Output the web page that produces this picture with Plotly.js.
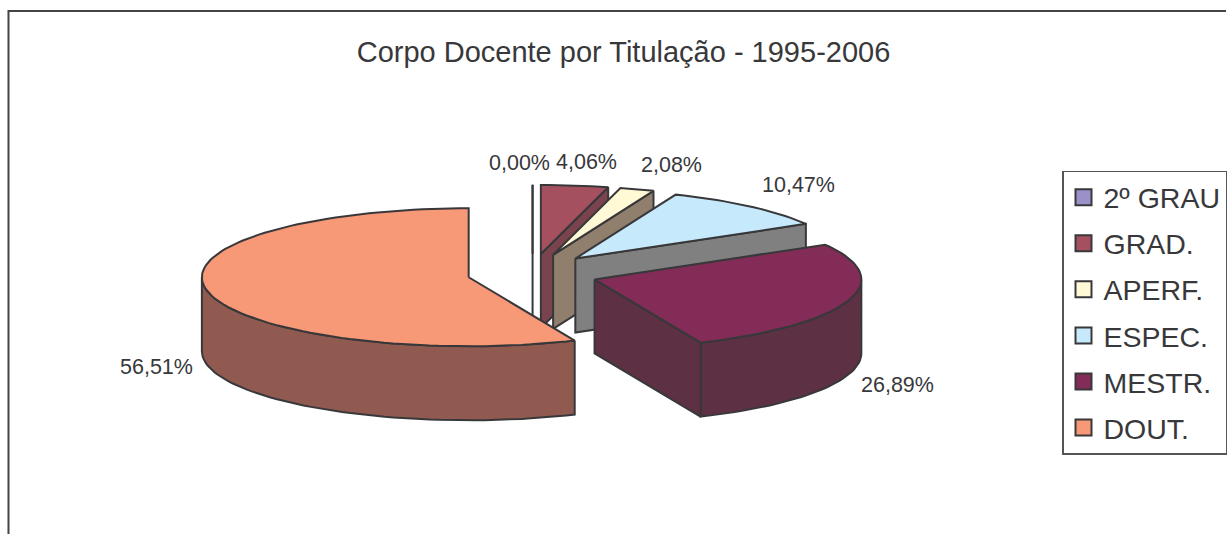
<!DOCTYPE html>
<html><head><meta charset="utf-8">
<script src="https://cdn.plot.ly/plotly-3.0.1.min.js"></script>
<style>html,body{margin:0;padding:0;background:#fff;overflow:hidden}</style>
</head><body><div id="chart" style="width:1227px;height:534px"></div>
<script>
// Data
const categories = ['2º GRAU','GRAD.','APERF.','ESPEC.','MESTR.','DOUT.'];
const shares = [0.00, 4.06, 2.08, 10.47, 26.89, 56.51];
const chartTitle = 'Corpo Docente por Titulação - 1995-2006';

// Styling
const topColors  = ['#9b90c8','#a5505f','#fff9d6','#c6e9fb','#822c57','#f79877'];
const wallColors = ['#5c5678','#7a434d','#917f6e','#808080','#5e3044','#915a50'];
const ink = '#38383b';
const FONT = '"Liberation Sans", Arial, sans-serif';

// Projection of the tilted, exploded pie (in axis units = pixels)
const view = {cx:533, cy:273.3, rx:267, ry:69, depth:74, explodeX:65.3, explodeY:19.5};
const labelAnchors = [[519.5,163],[587,162],[672,165],[799,185],[898.5,385],[157,367]];

const rad = d => d*Math.PI/180;
const total = shares.reduce((a,b)=>a+b,0);
const traces = [];
let cum = 0;
function poly(xs, ys, color){
  traces.push({type:'scatter',mode:'lines',x:xs.concat(xs[0]),y:ys.concat(ys[0]),fill:'toself',
    fillcolor:color,line:{color:ink,width:2},hoverinfo:'skip',showlegend:false});
}
shares.forEach((v,i)=>{
  const a0 = cum/total*360, a1 = (cum+v)/total*360; cum += v;
  const mid = rad((a0+a1)/2);
  const cx = view.cx + view.explodeX*Math.sin(mid);
  const cy = view.cy - view.explodeY*Math.cos(mid);
  const px = t => cx + view.rx*Math.sin(rad(t));
  const py = t => cy - view.ry*Math.cos(rad(t));
  // outer wall: only the arc that faces the viewer
  const w0 = Math.max(a0,90), w1 = Math.min(a1,270);
  if (w1 > w0){
    const xs=[],ys=[],n=Math.ceil((w1-w0)/2);
    for(let k=0;k<=n;k++){const t=w0+(w1-w0)*k/n; xs.push(px(t)); ys.push(py(t));}
    for(let k=n;k>=0;k--){const t=w0+(w1-w0)*k/n; xs.push(px(t)); ys.push(py(t)+view.depth);}
    poly(xs,ys,wallColors[i]);
  }
  // cut wall at the closing radius
  if (a1 < 180){
    poly([cx,px(a1),px(a1),cx],[cy,py(a1),py(a1)+view.depth,cy+view.depth],wallColors[i]);
  }
  // top face
  const xs=[cx],ys=[cy],n=Math.max(1,Math.ceil((a1-a0)/2));
  for(let k=0;k<=n;k++){const t=a0+(a1-a0)*k/n; xs.push(px(t)); ys.push(py(t));}
  poly(xs,ys,topColors[i]);
});

// Legend entries
categories.forEach((c,i)=>{
  traces.push({type:'scatter',mode:'markers',x:[null],y:[null],name:c,legendgroup:c,showlegend:true,
    marker:{symbol:'square',size:17,color:topColors[i],line:{color:ink,width:2}},hoverinfo:'skip'});
});

const fmt = v => v.toFixed(2).replace('.',',')+'%';
const annotations = shares.map((v,i)=>({
  x:labelAnchors[i][0],y:labelAnchors[i][1],xref:'x',yref:'y',text:fmt(v),showarrow:false,
  xanchor:'center',yanchor:'middle',font:{family:FONT,size:21.5,color:ink}
}));

const layout = {
  width:1227,height:534,margin:{l:0,r:0,t:0,b:0},
  paper_bgcolor:'#fff',plot_bgcolor:'#fff',
  title:{text:chartTitle,x:623.5/1227,xanchor:'center',y:1-52/534,yanchor:'middle',
    font:{family:FONT,size:29,color:ink}},
  xaxis:{visible:false,range:[0,1227],fixedrange:true},
  yaxis:{visible:false,range:[534,0],fixedrange:true},
  showlegend:true,
  legend:{x:1063/1227,y:1-170.7/534,xanchor:'left',yanchor:'top',traceorder:'grouped',tracegroupgap:6,
    bgcolor:'#fff',bordercolor:'#555',borderwidth:1.5,
    font:{family:FONT,size:28.5,color:ink}},
  shapes:[{type:'path',xref:'x',yref:'y',path:'M 8.5 534 L 8.5 11 L 1227 11',line:{color:'#444',width:2}}],
  annotations
};
Plotly.newPlot('chart',traces,layout,{displayModeBar:false,staticPlot:true});
</script></body></html>
